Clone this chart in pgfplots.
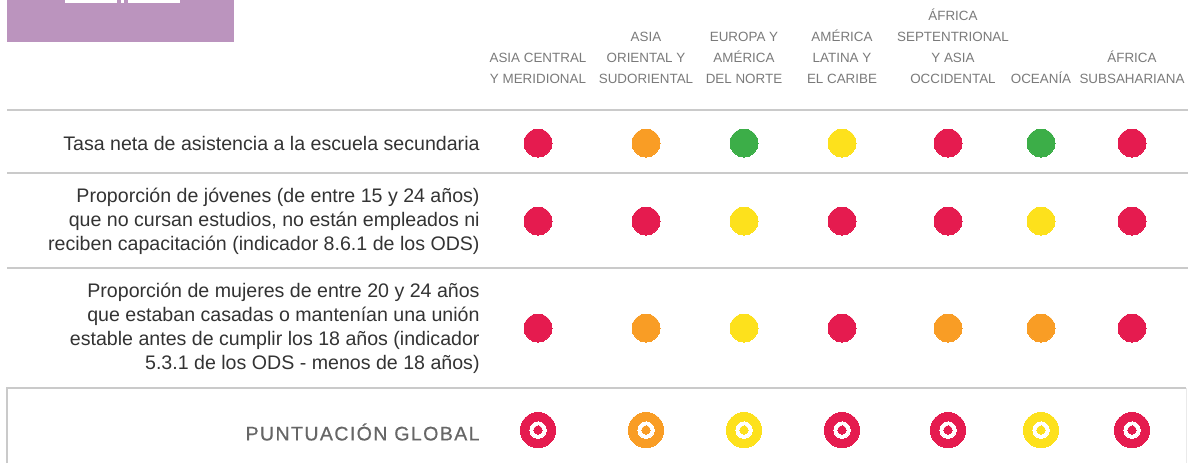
\documentclass[border=0pt]{standalone}
\usepackage{pgfplots}
\pgfplotsset{compat=1.18}
\usepackage{fontspec}
\setmainfont{Liberation Sans}
\definecolor{cred}{HTML}{E51B4F}
\definecolor{corange}{HTML}{F99D25}
\definecolor{cgreen}{HTML}{3CAE48}
\definecolor{cyellow}{HTML}{FDE11C}
\definecolor{cpurple}{HTML}{BB94BE}
\definecolor{cline}{HTML}{CACACA}
\definecolor{chead}{HTML}{7A7A7A}
\definecolor{ctext}{HTML}{333333}
\definecolor{cglobal}{HTML}{666666}
\pgfplotsset{
  dot/.style={only marks, mark=*, mark size=7pt, color=#1, mark options={solid, draw=#1, fill=#1, line width=0pt}},
  ringA/.style={only marks, mark=*, mark size=8.8pt, color=#1, mark options={solid, draw=#1, fill=#1, line width=0pt}},
  ringB/.style={only marks, mark=*, mark size=4.1pt, color=white, mark options={solid, draw=white, fill=white, line width=0pt}},
  ringC/.style={only marks, mark=*, mark size=2.1pt, color=#1, mark options={solid, draw=#1, fill=#1, line width=0pt}},
}
\begin{document}
\begin{tikzpicture}
\begin{axis}[hide axis, scale only axis, width=594pt, height=231.5pt,
  xmin=0, xmax=1188, ymin=0, ymax=463, y dir=reverse, clip=false]
% purple box
\fill[cpurple] (axis cs:7,0) rectangle (axis cs:234,42);
\fill[white] (axis cs:65,0) rectangle (axis cs:117,3);
\fill[white] (axis cs:121,0) rectangle (axis cs:124,3);
\fill[white] (axis cs:128,0) rectangle (axis cs:180,3);
% lines
\draw[cline, line width=0.75pt] (axis cs:7,110) -- (axis cs:1188,110);
\draw[cline, line width=0.75pt] (axis cs:7,173) -- (axis cs:1188,173);
\draw[cline, line width=0.75pt] (axis cs:7,268) -- (axis cs:1188,268);
\draw[cline, line width=0.75pt] (axis cs:7,463) -- (axis cs:7,388) -- (axis cs:1186,388);
\draw[cline!40, line width=0.5pt] (axis cs:1186,388) -- (axis cs:1186,463);
% headers
\begin{scope}[every node/.style={anchor=south, align=center, inner sep=0pt, text=chead, font=\fontsize{6.7}{10.6}\selectfont}]
\node at (axis cs:538,84.5) {ASIA CENTRAL\\Y MERIDIONAL};
\node at (axis cs:646,84.5) {ASIA\\ORIENTAL Y\\SUDORIENTAL};
\node at (axis cs:744,84.5) {EUROPA Y\\AMÉRICA\\DEL NORTE};
\node at (axis cs:842,84.5) {AMÉRICA\\LATINA Y\\EL CARIBE};
\node at (axis cs:953,84.5) {ÁFRICA\\SEPTENTRIONAL\\Y ASIA\\OCCIDENTAL};
\node at (axis cs:1041,84.5) {OCEANÍA};
\node at (axis cs:1132,84.5) {ÁFRICA\\SUBSAHARIANA};
\end{scope}
% row labels
\begin{scope}[every node/.style={anchor=east, align=right, inner sep=0pt, text=ctext, font=\fontsize{9.8}{12}\selectfont}]
\node at (axis cs:480,143) {Tasa neta de asistencia a la escuela secundaria};
\node at (axis cs:480,221) {Proporción de jóvenes (de entre 15 y 24 años)\\que no cursan estudios, no están empleados ni\\reciben capacitación (indicador 8.6.1 de los ODS)};
\node at (axis cs:480,328) {Proporción de mujeres de entre 20 y 24 años\\que estaban casadas o mantenían una unión\\estable antes de cumplir los 18 años (indicador\\5.3.1 de los ODS - menos de 18 años)};
\end{scope}
\node[anchor=east, inner sep=0pt, text=cglobal, font=\fontsize{9.8}{11}\selectfont\addfontfeature{LetterSpace=7,FakeBold=0.6}] at (axis cs:480,432) {PUNTUACIÓN GLOBAL};
% row dots
\addplot[dot=cred] coordinates {(538,143) (948,143) (1132,143)
  (538,221) (646,221) (842,221) (948,221) (1132,221)
  (538,328) (842,328) (1132,328)};
\addplot[dot=corange] coordinates {(646,143) (646,328) (948,328) (1041,328)};
\addplot[dot=cgreen] coordinates {(744,143) (1041,143)};
\addplot[dot=cyellow] coordinates {(842,143) (744,221) (1041,221) (744,328)};
% global score rings
\addplot[ringA=cred] coordinates {(538,430) (842,430) (948,430) (1132,430)};
\addplot[ringA=corange] coordinates {(646,430)};
\addplot[ringA=cyellow] coordinates {(744,430) (1041,430)};
\addplot[ringB] coordinates {(538,430) (646,430) (744,430) (842,430) (948,430) (1041,430) (1132,430)};
\addplot[ringC=cred] coordinates {(538,430) (842,430) (948,430) (1132,430)};
\addplot[ringC=corange] coordinates {(646,430)};
\addplot[ringC=cyellow] coordinates {(744,430) (1041,430)};
\end{axis}
\pgfresetboundingbox
\path (0,0) rectangle (594pt,231.5pt);
\end{tikzpicture}
\end{document}
